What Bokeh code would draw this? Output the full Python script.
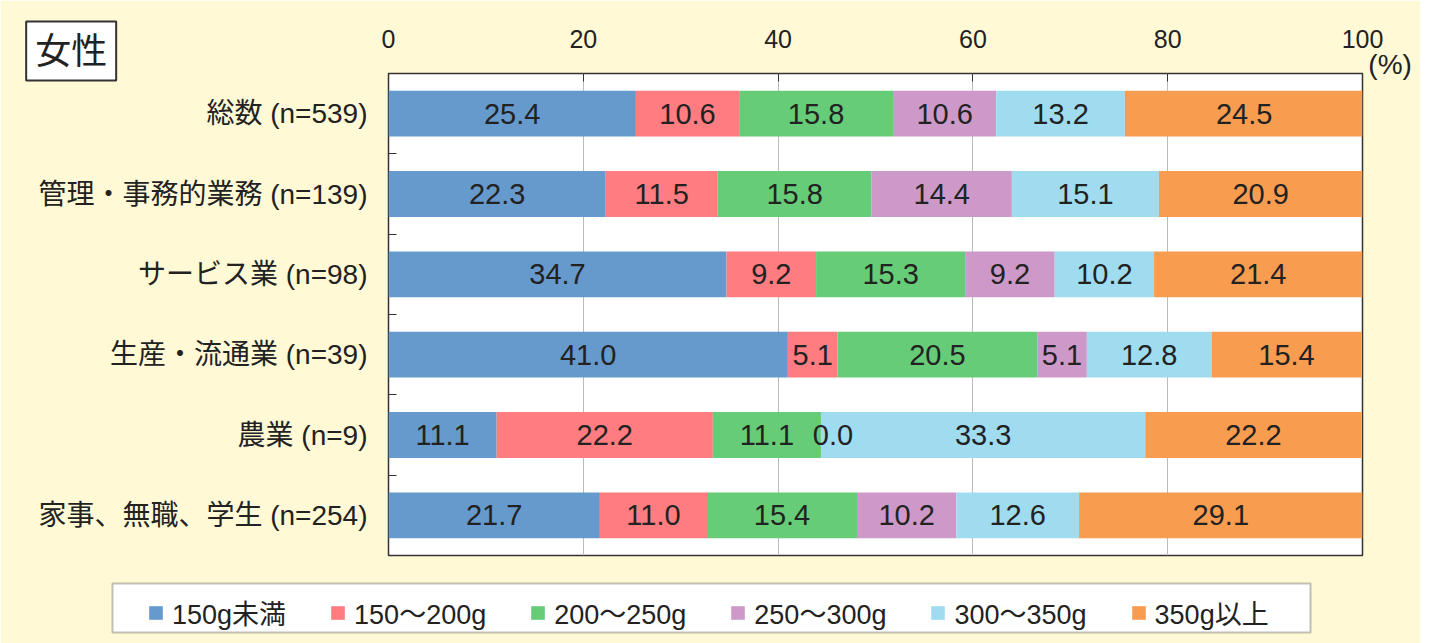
import numpy as np
from bokeh.plotting import figure
from bokeh.models import Range1d, FixedTicker, ColumnDataSource, Label, Legend, BoxAnnotation
from bokeh.core.properties import value
from bokeh.embed import file_html
from bokeh.resources import INLINE

categories = ["総数 (n=539)", "管理・事務的業務 (n=139)", "サービス業 (n=98)",
              "生産・流通業 (n=39)", "農業 (n=9)", "家事、無職、学生 (n=254)"]
series = ["150g未満", "150～200g", "200～250g", "250～300g", "300～350g", "350g以上"]
s1 = [25.4, 22.3, 34.7, 41.0, 11.1, 21.7]
s2 = [10.6, 11.5, 9.2, 5.1, 22.2, 11.0]
s3 = [15.8, 15.8, 15.3, 20.5, 11.1, 15.4]
s4 = [10.6, 14.4, 9.2, 5.1, 0.0, 10.2]
s5 = [13.2, 15.1, 10.2, 12.8, 33.3, 12.6]
s6 = [24.5, 20.9, 21.4, 15.4, 22.2, 29.1]
colors = ["#6699CC", "#FF7C80", "#66CC77", "#CC99C9", "#9FDCF0", "#F89C50"]
x_ticks = [0, 20, 40, 60, 80, 100]

FONT = "Liberation Sans, Noto Sans CJK JP, sans-serif"
BG = "#FFF9D6"
TXT = "#222222"

n = len(categories)
ypos = np.arange(n) + 0.5
vals = [s1, s2, s3, s4, s5, s6]

data = {"y": ypos}
for name, v in zip(series, vals):
    data[name] = v
src = ColumnDataSource(data)

p1 = figure(width=1420, height=643, output_backend="svg", toolbar_location=None,
            x_range=Range1d(0, 100), y_range=Range1d(n, 0),
            x_axis_location="above", min_border_left=388, min_border_right=58,
            min_border_top=73, min_border_bottom=88)
p1.background_fill_color = "white"
p1.border_fill_color = BG
p1.outline_line_color = "#333333"
p1.outline_line_width = 1.5

renderers = p1.hbar_stack(series, y="y", height=0.57, color=colors, source=src, line_color=None)

# value labels
lx, ly, lt, lo = [], [], [], []
for i in range(n):
    left = 0.0
    for v in vals:
        val = v[i]
        lx.append(left + val / 2)
        ly.append(ypos[i])
        lt.append(f"{val:.1f}")
        lo.append(12 if val == 0 else 0)
        left += val
p1.text(x=lx, y=ly, text=lt, x_offset=lo, text_align="center", text_baseline="middle",
        text_font=value(FONT), text_font_size="29px", text_color=TXT)

# axes
xa = p1.xaxis[0]
xa.ticker = FixedTicker(ticks=x_ticks)
xa.major_label_text_font = FONT
xa.major_label_text_font_size = "25px"
xa.major_label_text_color = TXT
xa.major_label_standoff = 26
xa.major_tick_in = 8
xa.major_tick_out = 0
xa.minor_tick_line_color = None
xa.axis_line_color = None
xa.major_tick_line_color = "#333333"

ya = p1.yaxis[0]
ya.ticker = FixedTicker(ticks=list(ypos), minor_ticks=list(np.arange(1, n)))
ya.major_label_overrides = {float(y): c for y, c in zip(ypos, categories)}
ya.major_label_text_font = FONT
ya.major_label_text_font_size = "28px"
ya.major_label_text_color = TXT
ya.major_label_standoff = 15
ya.major_tick_line_color = None
ya.minor_tick_in = 8
ya.minor_tick_out = 0
ya.minor_tick_line_color = "#333333"
ya.axis_line_color = None

p1.xgrid.grid_line_color = "#BBBBBB"
p1.ygrid.grid_line_color = None

# title box and unit label (placed in side panels, positioned on the plot's scales)
p1.add_layout(Label(x=-37.2, y=-0.647, text="女性",
                    text_font=FONT, text_font_size="36px", text_color=TXT,
                    text_align="left", text_baseline="top",
                    border_line_color="#333333", border_line_width=2,
                    background_fill_color="white", padding=9), "below")
p1.add_layout(Label(x=100.6, y=-0.31, text="(%)",
                    text_font=FONT, text_font_size="28px", text_color=TXT,
                    text_align="left", text_baseline="top"), "right")

# legend strip overlaid on the bottom of the chart
LH = 68
p2 = figure(width=1420, height=LH, output_backend="svg", toolbar_location=None,
            x_range=Range1d(0, 1420), y_range=Range1d(LH, 0), min_border=0,
            x_axis_type=None, y_axis_type=None, margin=(-LH, 0, 0, 0))
p2.background_fill_alpha = 0
p2.border_fill_alpha = 0
p2.outline_line_color = None
p2.grid.visible = False
nan = [np.nan]
dummies = [p2.quad(left=nan, right=nan, top=nan, bottom=nan, fill_color=c, line_color=None)
           for c in colors]
p2.add_layout(BoxAnnotation(left=112, right=1310, top=8, bottom=57, fill_color="white",
                            fill_alpha=1.0, line_color="#333333", line_width=2))
legend = Legend(items=[(s, [r]) for s, r in zip(series, dummies)],
                orientation="horizontal", location=(147, 11),
                label_text_font=FONT, label_text_font_size="27px",
                label_text_color=TXT,
                glyph_width=17, glyph_height=17, label_standoff=8, spacing=43,
                padding=8, margin=0, border_line_color=None,
                background_fill_alpha=0)
p2.add_layout(legend, "center")

p = [p1, p2]
open("out.html", "w").write(file_html(p, INLINE))
